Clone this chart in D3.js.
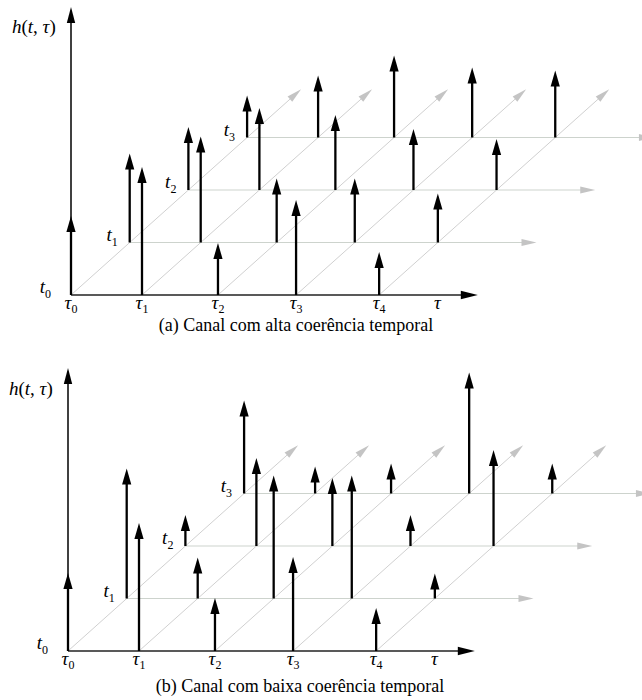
<!DOCTYPE html>
<html>
<head>
<meta charset="utf-8">
<script src="https://cdn.jsdelivr.net/npm/d3@7"></script>
<style>
  body { margin: 0; background: #fff; }
  svg { display: block; }
  svg text { font-family: "Times New Roman", Times, "Liberation Serif", Tinos, "Nimbus Roman", FreeSerif, "DejaVu Serif", serif; }
</style>
</head>
<body>
<svg id="chart" width="642" height="700"></svg>
<script>
// Path delays (in units of the first delay) and their subscripts
const tauDelays = [0, 1.0, 2.07, 3.17, 4.34];
const tauSubs = ["0", "1", "2", "3", "4"];
// Observation instants t0..t3
const timeSlots = [0, 1, 2, 3];
const timeSubs = ["0", "1", "2", "3"];
// Tap amplitudes |h(t_k, tau_i)|: one row per instant, one value per delay
const ampHigh = [
  [7.9, 12.8, 5.2, 9.5, 4.3],
  [8.9, 10.6, 6.4, 6.4, 4.9],
  [6.3, 8.2, 7.5, 6.1, 5.1],
  [4.2, 6.2, 8.2, 7.0, 6.7]
];
const ampLow = [
  [7.8, 12.8, 5.3, 9.4, 4.3],
  [13.0, 4.1, 12.3, 12.3, 2.5],
  [3.1, 8.8, 6.8, 3.1, 9.6],
  [9.3, 2.7, 3.0, 12.1, 3.0]
];
const captions = [
  "(a) Canal com alta coerência temporal",
  "(b) Canal com baixa coerência temporal"
];

const AXIS_END = 5.73;   // extent of the delay axis, in delay units
const DIAG_END = 3.92;   // extent of the time axis, in time units
const TAU_LABEL_AT = 5.16;

const svg = d3.select("#chart");

const panels = [
  { ox: 71, oy: 295, top: 7,   amps: ampHigh, caption: captions[0], capX: 296, capY: 331, hX: 12, hY: 33 },
  { ox: 68, oy: 651, top: 368, amps: ampLow,  caption: captions[1], capX: 300, capY: 692, hX: 9,  hY: 395 }
];

// Straight arrow with a filled triangular head at (x2, y2)
function arrow(g, x1, y1, x2, y2, o) {
  const a = Math.atan2(y2 - y1, x2 - x1);
  const len = o.headLen, hw = o.headW;
  const bx = x2 - Math.cos(a) * len, by = y2 - Math.sin(a) * len;
  const nx = -Math.sin(a) * hw, ny = Math.cos(a) * hw;
  g.append("line")
    .attr("x1", x1).attr("y1", y1)
    .attr("x2", x2 - Math.cos(a) * (len - 2)).attr("y2", y2 - Math.sin(a) * (len - 2))
    .attr("stroke", o.stroke).attr("stroke-width", o.width);
  g.append("path")
    .attr("d", `M${x2},${y2}L${bx + nx},${by + ny}L${bx - nx},${by - ny}Z`)
    .attr("fill", o.fill).attr("stroke", "none");
}

function subLabel(g, x, y, main, sub, anchor, size, subSize, subDy) {
  const t = g.append("text").attr("x", x).attr("y", y)
    .attr("text-anchor", anchor).attr("font-size", size);
  t.append("tspan").attr("font-style", "italic").text(main);
  t.append("tspan").attr("dy", subDy).attr("font-size", subSize).text(sub);
  return t;
}

panels.forEach(p => {
  const g = svg.append("g");
  const gx = d3.scaleLinear().domain([0, 1]).range([p.ox, p.ox + 71]);   // delay -> x
  const dx = d3.scaleLinear().domain([0, 1]).range([0, 58.7]);           // time -> x shift
  const ty = d3.scaleLinear().domain([0, 1]).range([p.oy, p.oy - 52.5]); // time -> y
  const hs = d3.scaleLinear().domain([0, 10]).range([0, 100]);           // amplitude -> px

  const grid = g.append("g");
  // time rows t1..t3, parallel to the delay axis
  timeSlots.slice(1).forEach(t => {
    arrow(grid, gx(0) + dx(t), ty(t), gx(AXIS_END) + dx(t), ty(t),
      { stroke: "#cdd3cd", width: 1.2, headLen: 15, headW: 3.5, fill: "#c4c4c4" });
  });
  // oblique time axes through each delay
  tauDelays.forEach(d => {
    arrow(grid, gx(d), p.oy, gx(d) + dx(DIAG_END), ty(DIAG_END),
      { stroke: "#d0d0d0", width: 1, headLen: 15, headW: 3.5, fill: "#c4c4c4" });
  });

  // main axes
  arrow(g, p.ox, p.oy, gx(AXIS_END), p.oy,
    { stroke: "#222", width: 1.6, headLen: 17, headW: 4.2, fill: "#000" });
  arrow(g, p.ox, p.oy, p.ox, p.top,
    { stroke: "#000", width: 1.5, headLen: 16, headW: 4.2, fill: "#000" });

  // channel taps
  const taps = g.append("g");
  p.amps.forEach((row, ti) => {
    row.forEach((a, di) => {
      const x = gx(tauDelays[di]) + dx(timeSlots[ti]);
      const y0 = ty(timeSlots[ti]);
      arrow(taps, x, y0, x, y0 - hs(a),
        { stroke: "#000", width: 2.3, headLen: 16, headW: 4.6, fill: "#000" });
    });
  });

  // labels
  const lab = g.append("g");
  tauDelays.forEach((d, i) => {
    subLabel(lab, gx(d), p.oy + 14, "τ", tauSubs[i], "middle", 19, 12, 4);
  });
  lab.append("text").attr("x", gx(TAU_LABEL_AT)).attr("y", p.oy + 14)
    .attr("text-anchor", "middle").attr("font-size", 19).attr("font-style", "italic").text("τ");

  timeSlots.forEach((t, i) => {
    const x = gx(0) + dx(t) - (i === 0 ? 20 : 12);
    subLabel(lab, x, ty(t) - 2, "t", timeSubs[i], "end", 19, 12, 5);
  });

  const h = lab.append("text").attr("x", p.hX).attr("y", p.hY).attr("font-size", 19);
  h.append("tspan").attr("font-style", "italic").text("h");
  h.append("tspan").text("(");
  h.append("tspan").attr("font-style", "italic").text("t");
  h.append("tspan").text(", ");
  h.append("tspan").attr("font-style", "italic").text("τ");
  h.append("tspan").text(")");

  lab.append("text").attr("x", p.capX).attr("y", p.capY)
    .attr("text-anchor", "middle").attr("font-size", 18).text(p.caption);
});
</script>
</body>
</html>
